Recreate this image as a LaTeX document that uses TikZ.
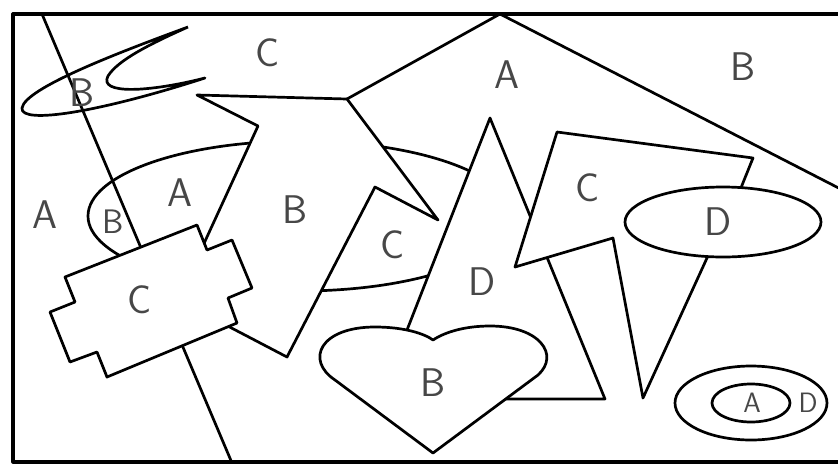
\documentclass[tikz,border=0pt]{standalone}
\usepackage{tikz}
\begin{document}
\begin{tikzpicture}[x=1pt,y=-1pt,line join=round,
 edge/.style={line width=2.7pt},
 region/.style={edge,fill=white},
 lbl/.style={font=\sffamily\fontsize{40}{40}\selectfont,text=black!72},
 lblsmall/.style={font=\sffamily\fontsize{28}{28}\selectfont,text=black!72}]
\useasboundingbox (0,0) rectangle (838,464);
\clip (0,0) rectangle (838,464);
\fill[white] (0,0) rectangle (838,464);
% frame and the long lines
\draw[line width=3.2pt] (13,14) rectangle (860,462);
\draw[edge] (347,99) -- (500,14) -- (860,199);
\draw[edge] (42,14) -- (232,463);
\draw[edge] (300,216) ellipse [x radius=212,y radius=75];
% boomerang
\draw[edge] (188,27) .. controls (120,52) and (25,88) .. (22,108)
 .. controls (20,125) and (100,112) .. (205,78)
 .. controls (150,92) and (98,95) .. (108,76)
 .. controls (118,60) and (150,44) .. (188,27);
% shapes, back to front
\draw[region] (197,95) -- (347,99) -- (438,220) -- (375,187) -- (287,357)
 -- (178,300) -- (258,126) -- cycle;
\draw[region] (490,118) -- (605,399) -- (380,399) -- cycle;
\draw[region] (557,132) -- (753,158) -- (730,215) -- (707,258) -- (643,398)
 -- (613,238) -- (515,267) -- cycle;
\draw[region] (723,222) ellipse [x radius=98,y radius=35];
\draw[region] (433,453) -- (335,380) .. controls (305,360) and (320,327) .. (375,327)
 .. controls (405,327) and (425,334) .. (433,340)
 .. controls (445,332) and (465,326) .. (490,326)
 .. controls (540,326) and (560,355) .. (538,375) -- cycle;
\draw[region] (65,277) -- (197,225) -- (207,250) -- (232,240) -- (252,288)
 -- (228,298) -- (237,323) -- (107,377) -- (97,352) -- (70,362)
 -- (50,312) -- (75,302) -- cycle;
\draw[edge] (751,403) ellipse [x radius=76,y radius=37];
\draw[edge] (751,403) ellipse [x radius=39,y radius=19];
% letters
\foreach \t/\x/\y [count=\i] in {C/268/53,B/82/93,A/507/75,B/743/67,A/45/215,
 A/180/193,B/295/210,C/393/245,C/588/188,D/718/222,C/140/300,D/482/282,B/433/383}
 \node[lbl] (r\i) at (\x,\y) {\t};
\node[lblsmall,font=\sffamily\fontsize{34}{34}\selectfont] (s1) at (113,222) {B};
\node[lblsmall] (s2) at (752,403) {A};
\node[lblsmall] (s3) at (808,403) {D};
\end{tikzpicture}
\end{document}
